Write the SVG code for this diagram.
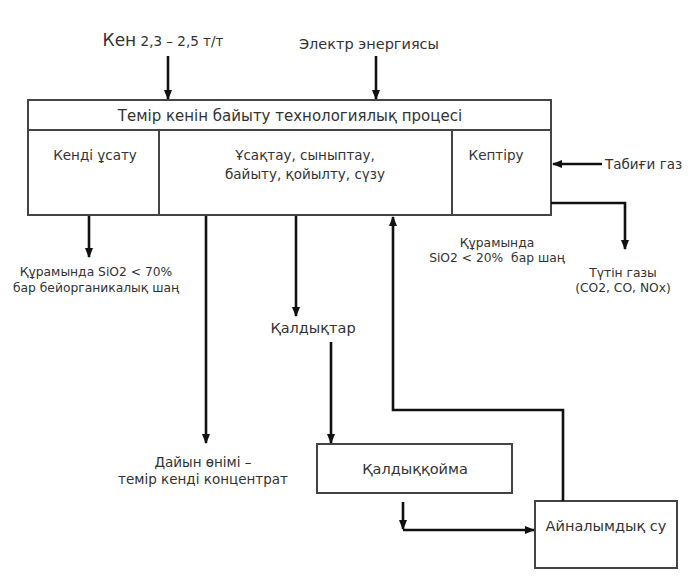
<svg xmlns="http://www.w3.org/2000/svg" width="696" height="581" viewBox="0 0 696 581">
<defs>
<marker id="ah" viewBox="0 0 10 10" refX="9" refY="5" markerWidth="4" markerHeight="4" orient="auto" markerUnits="strokeWidth">
<path d="M0,1 L10,5 L0,9 z" fill="#111"/>
</marker>
<style>
.box{fill:#fff;stroke:#444;stroke-width:2}
.ln{fill:none;stroke:#444;stroke-width:2}
.c{fill:none;stroke:#111;stroke-width:2.6;marker-end:url(#ah)}
text{font-family:"DejaVu Sans","Liberation Sans",Arial,sans-serif;fill:#333;text-anchor:middle}
.t15{font-size:14.5px}
.t14{font-size:13.5px}
.th{font-size:15px}
.t11{font-size:12.3px}
</style>
</defs>
<rect width="696" height="581" fill="#fff"/>
<g id="main-process">
<rect class="box" x="28" y="100" width="523" height="115"/>
<line class="ln" x1="28" y1="130" x2="551" y2="130"/>
<line class="ln" x1="159" y1="130" x2="159" y2="215"/>
<line class="ln" x1="452" y1="130" x2="452" y2="215"/>
<text class="th" x="290" y="121">Темір кенін байыту технологиялық процесі</text>
<text class="t14" x="95" y="160">Кенді ұсату</text>
<text class="t14" x="305" y="160">Ұсақтау, сыныптау,</text>
<text class="t14" x="305" y="179">байыту, қойылту, сүзу</text>
<text class="t14" x="496" y="160">Кептіру</text>
</g>
<g id="ore-input"><text x="163" y="46"><tspan font-size="17">Кен</tspan><tspan font-size="13.5"> 2,3 – 2,5 т/т</tspan></text></g>
<g id="electricity-input"><text class="t15" x="369" y="49">Электр энергиясы</text></g>
<g id="natural-gas"><text class="t14" x="605" y="169" style="text-anchor:start">Табиғи газ</text></g>
<g id="flue-gas"><text class="t11" x="623" y="277">Түтін газы</text><text class="t11" x="623" y="292">(CO2, CO, NOx)</text></g>
<g id="dust-20"><text class="t11" x="497" y="247">Құрамында</text><text class="t11" x="497" y="262" xml:space="preserve">SiO2 &lt; 20%  бар шаң</text></g>
<g id="dust-70"><text class="t11" x="96" y="276">Құрамында SiO2 &lt; 70%</text><text class="t11" x="96" y="292">бар бейорганикалық шаң</text></g>
<g id="concentrate"><text class="t14" x="203" y="467">Дайын өнімі –</text><text class="t14" x="203" y="484">темір кенді концентрат</text></g>
<g id="tailings"><text class="t15" x="313" y="333">Қалдықтар</text></g>
<g id="tailings-storage"><rect class="box" x="317" y="444" width="195" height="49"/><text class="t15" x="415" y="474">Қалдыққойма</text></g>
<g id="recycled-water"><rect class="box" x="535" y="501" width="142" height="67"/><text class="t15" x="606" y="531">Айналымдық су</text></g>
<g id="connectors">
<path class="c" d="M168,56 V99"/>
<path class="c" d="M376,56 V99"/>
<path class="c" d="M602,164 H553"/>
<path class="c" d="M551,203 H625 V249"/>
<path class="c" d="M89,216 V257"/>
<path class="c" d="M206,216 V443"/>
<path class="c" d="M296,216 V316"/>
<path class="c" d="M331,342 V443"/>
<path class="c" d="M563,501 V410 H393 V217"/>
<path class="c" d="M403,502 V529"/>
<path class="c" d="M403,530 H534"/>
</g>
</svg>
